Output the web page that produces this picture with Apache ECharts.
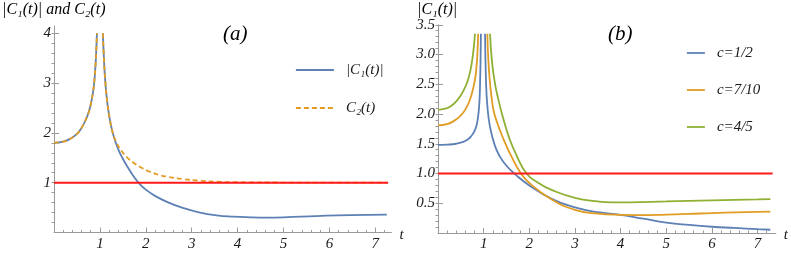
<!DOCTYPE html>
<html>
<head>
<meta charset="utf-8">
<script src="https://cdn.jsdelivr.net/npm/echarts@6/dist/echarts.min.js"></script>
<style>html,body{margin:0;padding:0;background:#fff}#c{width:791px;height:256px}</style>
</head>
<body>
<div id="c"></div>
<script>
// ---------- Panel (a) ----------
const aC1LeftT  = [0, 0.2, 0.35, 0.5, 0.6, 0.68, 0.75, 0.8, 0.85, 0.88, 0.91, 0.935];
const aC1LeftV  = [1.80, 1.825, 1.88, 1.98, 2.10, 2.24, 2.40, 2.57, 2.82, 3.05, 3.45, 4.0];
const aC1RightT = [1.065, 1.09, 1.12, 1.16, 1.22, 1.3, 1.4, 1.5, 1.62, 1.74, 1.86, 2.0, 2.2, 2.46, 2.82, 3.18, 3.54, 3.91, 4.27, 4.63, 5.0, 5.72, 6.45, 7.25];
const aC1RightV = [4.0, 3.45, 3.0, 2.62, 2.25, 1.93, 1.67, 1.48, 1.29, 1.12, 0.98, 0.86, 0.735, 0.615, 0.49, 0.40, 0.345, 0.318, 0.305, 0.30, 0.305, 0.33, 0.35, 0.36];
const aC2RightT = [1.065, 1.09, 1.12, 1.16, 1.22, 1.28, 1.37, 1.47, 1.58, 1.72, 1.87, 2.09, 2.31, 2.46, 2.82, 3.18, 3.54, 4.0, 5.0, 6.0, 7.25];
const aC2RightV = [4.0, 3.45, 3.0, 2.62, 2.25, 2.0, 1.79, 1.64, 1.52, 1.41, 1.32, 1.22, 1.15, 1.12, 1.07, 1.04, 1.02, 1.01, 1.003, 1.001, 1.0];
const aRefT = [0, 7.28];
const aRefV = [1, 1];
const aYTicks = [1, 2, 3, 4];
const xTicks = [1, 2, 3, 4, 5, 6, 7];

// ---------- Panel (b) ----------
const bHalfLeftT  = [0, 0.2, 0.4, 0.55, 0.65, 0.73, 0.79, 0.84, 0.87, 0.9, 0.92, 0.94];
const bHalfLeftV  = [1.48, 1.485, 1.50, 1.53, 1.57, 1.63, 1.70, 1.80, 1.91, 2.12, 2.45, 3.35];
const bHalfRightT = [1.03, 1.05, 1.08, 1.14, 1.25, 1.36, 1.5, 1.7, 2.0, 2.5, 3.0, 3.5, 4.0, 4.5, 5.0, 5.5, 6.0, 6.5, 7.0, 7.28];
const bHalfRightV = [3.35, 2.6, 2.15, 1.78, 1.46, 1.28, 1.13, 0.98, 0.80, 0.57, 0.43, 0.35, 0.305, 0.24, 0.175, 0.135, 0.105, 0.085, 0.065, 0.055];
const bSevenLeftT  = [0, 0.2, 0.34, 0.45, 0.55, 0.63, 0.70, 0.76, 0.81, 0.84, 0.86, 0.88];
const bSevenLeftV  = [1.81, 1.83, 1.88, 1.94, 2.02, 2.12, 2.24, 2.40, 2.58, 2.77, 2.97, 3.35];
const bSevenRightT = [1.08, 1.10, 1.13, 1.17, 1.22, 1.29, 1.36, 1.45, 1.6, 1.8, 2.0, 2.5, 3.0, 3.5, 4.0, 4.5, 5.0, 5.5, 6.0, 6.5, 7.0, 7.28];
const bSevenRightV = [3.35, 2.95, 2.6, 2.3, 2.05, 1.87, 1.72, 1.55, 1.30, 1.02, 0.84, 0.56, 0.39, 0.325, 0.305, 0.30, 0.31, 0.32, 0.335, 0.345, 0.355, 0.36];
const bFourLeftT  = [0, 0.15, 0.26, 0.41, 0.55, 0.66, 0.74, 0.79, 0.81];
const bFourLeftV  = [2.07, 2.09, 2.12, 2.22, 2.38, 2.58, 2.86, 3.17, 3.35];
const bFourRightT = [1.14, 1.18, 1.24, 1.32, 1.42, 1.55, 1.7, 1.94, 2.2, 2.5, 3.0, 3.5, 3.8, 4.2, 5.0, 6.0, 7.0, 7.28];
const bFourRightV = [3.35, 2.9, 2.55, 2.25, 1.95, 1.62, 1.34, 1.0, 0.84, 0.72, 0.59, 0.53, 0.515, 0.515, 0.53, 0.55, 0.565, 0.57];
const bRefT = [0, 7.33];
const bRefV = [1, 1];
const bYTicks = [0.5, 1.0, 1.5, 2.0, 2.5, 3.0, 3.5];

const names = {
  c1: '|C\u2081(t)|', c2: 'C\u2082(t)',
  half: 'c=1/2', seven: 'c=7/10', four: 'c=4/5'
};
const BLUE = '#5E81B5', ORANGE = '#E19C24', GREEN = '#8FB032', RED = '#FF1A1A';
const FONT = '"Liberation Serif","DejaVu Serif",serif';

function zip(t, v) { return t.map((x, i) => [x, v[i]]); }
function broken(lt, lv, rt, rv) { return zip(lt, lv).concat([[1, '-']]).concat(zip(rt, rv)); }
function range(step, max) { const r = []; for (let k = 1; k * step <= max + 1e-9; k++) r.push(+(k * step).toFixed(3)); return r; }

const axisGray = '#9a9a9a';
const labelStyle = { fontFamily: FONT, fontStyle: 'italic', fontSize: 15, color: '#1a1a1a' };

function xAxes(gi, max) {
  return [
    { type: 'value', gridIndex: gi, min: 0, max: max, position: 'bottom',
      name: 't', nameLocation: 'end', nameGap: 8,
      nameTextStyle: Object.assign({}, labelStyle, { verticalAlign: 'top', padding: [-5, 0, 0, 0] }),
      axisLine: { show: true, lineStyle: { color: axisGray, width: 1 } },
      axisTick: { show: true, inside: true, length: 5, lineStyle: { color: axisGray }, customValues: xTicks },
      axisLabel: Object.assign({ show: true, margin: 4, customValues: xTicks, formatter: v => String(v) }, labelStyle),
      splitLine: { show: false } },
    { type: 'value', gridIndex: gi, min: 0, max: max, position: 'bottom',
      axisLine: { show: false },
      axisTick: { show: true, inside: true, length: 2.5, lineStyle: { color: axisGray }, customValues: range(0.2, 7.2) },
      axisLabel: { show: false }, splitLine: { show: false } }
  ];
}
function yAxes(gi, max, ticks, minorStep, fmt) {
  return [
    { type: 'value', gridIndex: gi, min: 0, max: max,
      axisLine: { show: true, lineStyle: { color: axisGray, width: 1 } },
      axisTick: { show: true, inside: true, length: 5, lineStyle: { color: axisGray }, customValues: ticks },
      axisLabel: Object.assign({ show: true, margin: 3, customValues: ticks, formatter: fmt }, labelStyle),
      splitLine: { show: false } },
    { type: 'value', gridIndex: gi, min: 0, max: max,
      axisLine: { show: false },
      axisTick: { show: true, inside: true, length: 2.5, lineStyle: { color: axisGray }, customValues: range(minorStep, max) },
      axisLabel: { show: false }, splitLine: { show: false } }
  ];
}

function lineSeries(name, xi, yi, data, color, type) {
  return { type: 'line', name: name, xAxisIndex: xi, yAxisIndex: yi, data: data,
    showSymbol: false, symbol: 'none', smooth: 0.5, connectNulls: false, clip: true,
    lineStyle: { color: color, width: 1.8, type: type || 'solid' }, itemStyle: { color: color },
    emphasis: { disabled: true }, silent: true, animation: false };
}

function legendItem(name, left, cy, w) {
  return { data: [name], orient: 'vertical', left: left, top: cy - 8, padding: 0,
    itemWidth: w, itemHeight: 16, selectedMode: false,
    itemStyle: { opacity: 0, borderWidth: 0 },
    lineStyle: { width: 1.8 },
    textStyle: Object.assign({}, labelStyle, { lineHeight: 16, padding: [0, 0, 0, 7] }) };
}

const titleStyle = (size) => ({ fontFamily: FONT, fontStyle: 'italic', fontWeight: 'normal', fontSize: size, color: '#000' });

const chart = echarts.init(document.getElementById('c'), null, { renderer: 'canvas' });
chart.setOption({
  animation: false,
  backgroundColor: '#ffffff',
  title: [
    { text: '|C\u2081(t)| and C\u2082(t)', left: 2, top: 2, padding: 0, textStyle: titleStyle(16) },
    { text: '|C\u2081(t)|', left: 417, top: 2, padding: 0, textStyle: titleStyle(16) },
    { text: '(a)', left: 223, top: 24, padding: 0, textStyle: titleStyle(21) },
    { text: '(b)', left: 608, top: 24, padding: 0, textStyle: titleStyle(21) }
  ],
  legend: [
    legendItem(names.c1, 295, 70, 38),
    legendItem(names.c2, 295, 108, 38),
    legendItem(names.half, 686, 53, 18),
    legendItem(names.seven, 686, 90, 18),
    legendItem(names.four, 686, 127, 18)
  ],
  grid: [
    { left: 54, top: 25.8, width: 337.4, height: 206.7 },
    { left: 438, top: 24.75, width: 338.2, height: 208.25 }
  ],
  xAxis: xAxes(0, 7.35).concat(xAxes(1, 7.4)),
  yAxis: yAxes(0, 4.15, aYTicks, 0.2, v => String(v)).concat(yAxes(1, 3.5, bYTicks, 0.1, v => v.toFixed(1))),
  series: [
    lineSeries(names.c1, 0, 0, broken(aC1LeftT, aC1LeftV, aC1RightT, aC1RightV), BLUE),
    lineSeries(names.c2, 0, 0, broken(aC1LeftT, aC1LeftV, aC2RightT, aC2RightV), ORANGE, [5, 3]),
    Object.assign(lineSeries('ref a', 0, 0, zip(aRefT, aRefV), RED), { smooth: false, lineStyle: { color: RED, width: 2 } }),
    lineSeries(names.half, 2, 2, broken(bHalfLeftT, bHalfLeftV, bHalfRightT, bHalfRightV), BLUE),
    lineSeries(names.seven, 2, 2, broken(bSevenLeftT, bSevenLeftV, bSevenRightT, bSevenRightV), ORANGE),
    lineSeries(names.four, 2, 2, broken(bFourLeftT, bFourLeftV, bFourRightT, bFourRightV), GREEN),
    Object.assign(lineSeries('ref b', 2, 2, zip(bRefT, bRefV), RED), { smooth: false, lineStyle: { color: RED, width: 2 } })
  ]
});
</script>
</body>
</html>
